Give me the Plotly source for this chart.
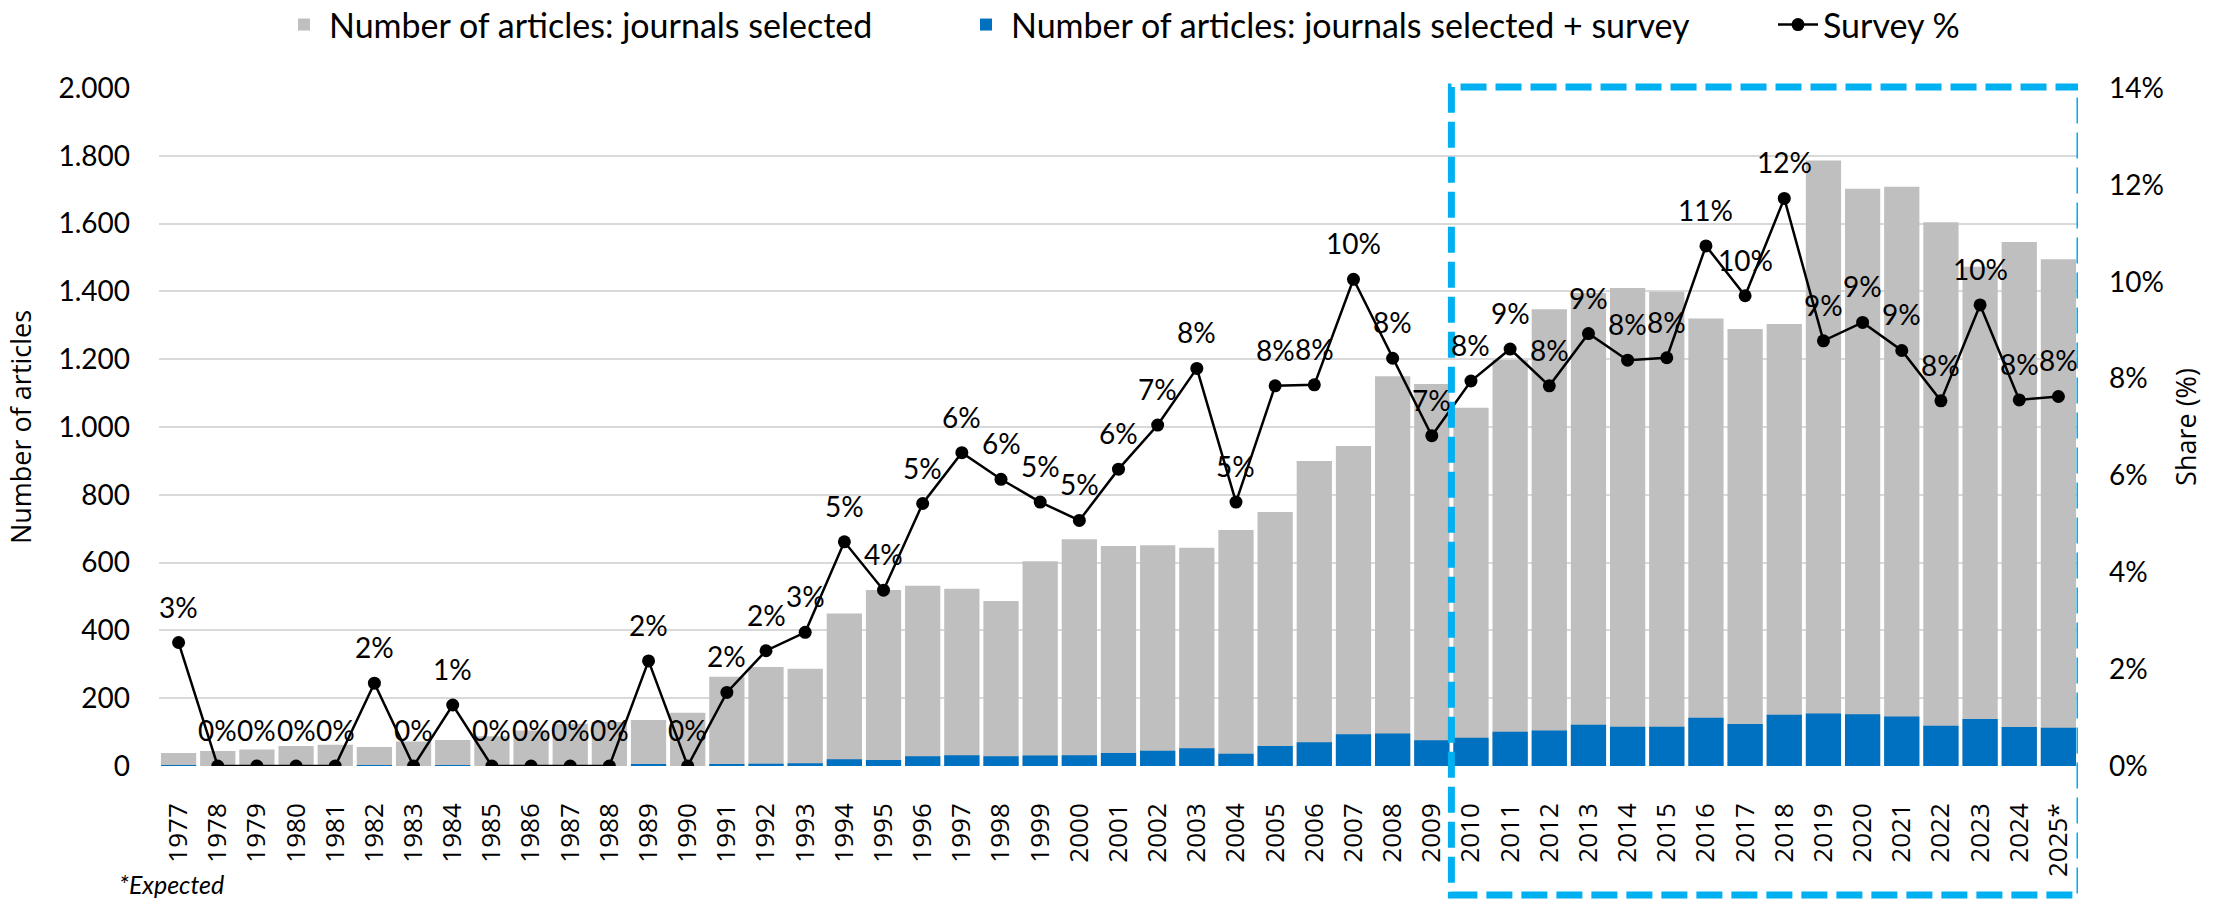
import plotly.graph_objects as go

years = [str(y) for y in range(1977, 2025)] + ["2025*"]

total_articles = [38, 44, 49, 59, 63, 56, 72, 77, 88, 105, 125, 130, 136, 157, 263,
                  292, 287, 450, 519, 532, 523, 487, 604, 669, 649, 651, 644, 696,
                  749, 900, 944, 1150, 1127, 1057, 1198, 1347, 1395, 1410, 1399,
                  1320, 1289, 1304, 1786, 1703, 1709, 1604, 1473, 1546, 1495]

survey_articles = [1, 0, 0, 0, 0, 1, 0, 1, 0, 0, 0, 0, 3, 0, 4,
                   7, 8, 20, 18, 29, 32, 29, 31, 32, 38, 45, 52, 36,
                   59, 70, 94, 96, 76, 83, 101, 105, 122, 116, 116,
                   142, 124, 151, 155, 153, 146, 119, 139, 115, 113]

survey_share = [0.0255, 0, 0, 0, 0, 0.0171, 0, 0.0126, 0, 0, 0, 0, 0.0217, 0, 0.0152,
                0.0238, 0.0276, 0.0463, 0.0363, 0.0542, 0.0647, 0.0592, 0.0545, 0.0507,
                0.0613, 0.0704, 0.0821, 0.0545, 0.0785, 0.0787, 0.1005, 0.0842, 0.0682,
                0.0795, 0.0861, 0.0785, 0.0893, 0.0838, 0.0843, 0.1074, 0.0971, 0.1172,
                0.0878, 0.0916, 0.0858, 0.0754, 0.0952, 0.0756, 0.0763]

NUM_FONT = "Lato, 'Liberation Sans', Arial, sans-serif"
UI_FONT = "'Open Sans', 'DejaVu Sans', sans-serif"
TXT = "#000000"

idx = list(range(len(years)))

fig = go.Figure()
fig.add_trace(go.Bar(
    x=idx, y=total_articles, name="Number of articles: journals selected",
    marker=dict(color="#BFBFBF", line=dict(width=0)), yaxis="y", legend="legend"))
fig.add_trace(go.Bar(
    x=idx, y=survey_articles, name="Number of articles: journals selected + survey",
    marker=dict(color="#0070C0", line=dict(width=0)), yaxis="y", legend="legend2"))
fig.add_trace(go.Scatter(
    x=idx, y=survey_share, name="Survey %", yaxis="y2",
    mode="lines+markers", line=dict(color="#000000", width=2.5),
    marker=dict(color="#000000", size=13), legend="legend3"))

plot_l, plot_r, plot_t, plot_b = 159, 153, 88, 138
W, H = 2231, 904
pw, ph = W - plot_l - plot_r, H - plot_t - plot_b

annotations = []
for i, p in zip(idx, survey_share):
    annotations.append(dict(
        x=i, y=p, xref="x", yref="y2", text=f"{p:.0%}", showarrow=False,
        yshift=36, font=dict(family=NUM_FONT, size=28, color=TXT)))
annotations.append(dict(
    x=-0.022, y=-(plot_b - 3) / ph,
    xref="paper", yref="paper", xanchor="left", yanchor="bottom",
    text="<i>*Expected</i>", showarrow=False,
    font=dict(family=NUM_FONT, size=25, color=TXT)))

leg_common = dict(orientation="h", xanchor="left", y=1.093, yanchor="middle",
                  font=dict(family=NUM_FONT, size=34, color=TXT),
                  bgcolor="rgba(0,0,0,0)", itemwidth=40)

fig.update_layout(
    width=W, height=H,
    margin=dict(l=plot_l, r=plot_r, t=plot_t, b=plot_b, pad=0, autoexpand=False),
    paper_bgcolor="white", plot_bgcolor="white",
    barmode="overlay", bargap=0.1,
    separators=",.",
    font=dict(family=NUM_FONT, size=28, color=TXT),
    showlegend=True,
    legend=dict(x=(279 - plot_l) / pw, **leg_common),
    legend2=dict(x=(961 - plot_l) / pw, **leg_common),
    legend3=dict(x=(1773 - plot_l) / pw, **leg_common),
    xaxis=dict(range=[-0.5, len(years) - 0.5], autorange=False,
               tickmode="array", tickvals=idx, ticktext=years,
               tickangle=-90, showgrid=False, zeroline=False,
               showline=False, ticks="", ticklabelstandoff=31,
               tickfont=dict(family=UI_FONT, size=26, color=TXT)),
    yaxis=dict(range=[0, 2000], dtick=200, tickformat=",d", showgrid=True,
               gridcolor="#D9D9D9", gridwidth=2, zeroline=False, showline=False,
               ticks="", ticklabelstandoff=28,
               tickfont=dict(family=NUM_FONT, size=28, color=TXT),
               title=dict(text="Number of articles", standoff=18,
                          font=dict(family=UI_FONT, size=27, color=TXT))),
    yaxis2=dict(range=[0, 0.14], dtick=0.02, tickformat=".0%", overlaying="y",
                side="right", showgrid=False, zeroline=False, showline=False,
                ticks="", ticklabelstandoff=30,
                tickfont=dict(family=NUM_FONT, size=28, color=TXT),
                title=dict(text="Share (%)", standoff=14,
                           font=dict(family=UI_FONT, size=27, color=TXT))),
    annotations=annotations,
    shapes=[dict(type="rect", xref="x", yref="paper",
                 x0=32.5, x1=48.55, y0=(H - plot_b - 895) / ph, y1=(H - plot_b - 87) / ph,
                 line=dict(color="#00B0F0", width=7, dash="26px,9px"),
                 fillcolor="rgba(0,0,0,0)", layer="above")],
)

fig.write_html("out.html")
